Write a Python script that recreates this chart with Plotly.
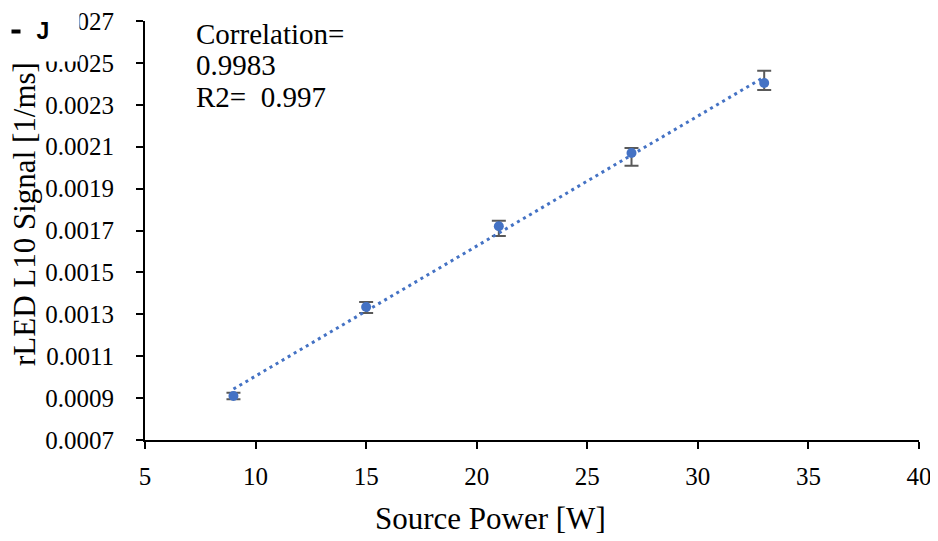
import numpy as np
import plotly.graph_objects as go

# source power settings and measured rLED L10 signal
power = [9, 15, 21, 27, 33]
signal = [0.00091, 0.001335, 0.00172, 0.00207, 0.002404]
err_plus = [0.000015, 0.000024, 0.000027, 0.000024, 0.000059]
err_minus = [0.000015, 0.000029, 0.000046, 0.000061, 0.000033]

x_ticks = [5, 10, 15, 20, 25, 30, 35, 40]
y_ticks = [0.0007, 0.0009, 0.0011, 0.0013, 0.0015, 0.0017, 0.0019, 0.0021, 0.0023, 0.0025, 0.0027]

stats_lines = ["Correlation=", "0.9983", "R2=  0.997"]

# linear trendline over the data range (like Excel's)
slope, icpt = np.polyfit(power, signal, 1)
trend_x = [power[0], power[-1]]
trend_y = [slope * v + icpt for v in trend_x]

BLUE = "#4472C4"
FONT = "Times New Roman, Liberation Serif, serif"

fig = go.Figure()
fig.add_trace(go.Scatter(
    x=power, y=signal, mode="markers",
    marker=dict(color=BLUE, size=10),
    error_y=dict(type="data", symmetric=False, array=err_plus, arrayminus=err_minus,
                 color="#595959", thickness=2, width=7),
    showlegend=False))
fig.add_trace(go.Scatter(
    x=trend_x, y=trend_y, mode="lines",
    line=dict(color=BLUE, width=3, dash="3px,4px"),
    showlegend=False))

axis_common = dict(showline=True, linecolor="black", linewidth=2, ticks="outside",
                   ticklen=7, tickwidth=2, tickcolor="black", showgrid=False,
                   zeroline=False, automargin=False, ticklabeloverflow="allow",
                   tickfont=dict(family=FONT, size=25, color="black"))
fig.update_xaxes(range=[5, 40], tickvals=x_ticks, ticklabelstandoff=6, **axis_common)
fig.update_yaxes(range=[0.0007, 0.0027], tickvals=y_ticks, tickformat=".4f",
                 ticklabelstandoff=17, **axis_common)

# positions below are worked out in page pixels relative to the plot area
# (plot area spans x 145..919, y 21..440 of the page)
ann = []
ann.append(dict(text="Source Power [W]", xref="paper", yref="paper",
                x=(490 - 145) / 774, y=(440 - 518) / 419, xanchor="center", yanchor="middle",
                showarrow=False, font=dict(family=FONT, size=31, color="black")))
ann.append(dict(text="rLED L10 Signal [1/ms]", xref="paper", yref="paper", textangle=-90,
                x=(24 - 145) / 774, y=(440 - 214) / 419, xanchor="center", yanchor="middle",
                showarrow=False, font=dict(family=FONT, size=31, color="black")))
for line, yc in zip(stats_lines, [34, 65, 97]):
    ann.append(dict(text=line, xref="paper", yref="paper",
                    x=(194 - 145) / 774, y=(440 - yc) / 419, xanchor="left", yanchor="middle",
                    showarrow=False, font=dict(family=FONT, size=29, color="black")))
# panel label box that covers the top-left corner
ann.append(dict(text="<b>J</b>", xref="paper", yref="paper",
                x=(43 - 145) / 774, y=(440 - 30.5) / 419, xanchor="center", yanchor="middle",
                width=72, height=61, borderpad=0, bgcolor="white", showarrow=False,
                font=dict(family="Liberation Sans", size=23, color="black")))
ann.append(dict(text=" ", xref="paper", yref="paper",
                x=(16 - 145) / 774, y=(440 - 32) / 419, xanchor="center", yanchor="middle",
                width=8, height=3, borderpad=0, bgcolor="black", showarrow=False,
                font=dict(size=2)))

# the page body adds an 8px margin, so the figure is 8px smaller each way
fig.update_layout(width=930, height=533, margin=dict(l=137, r=19, t=13, b=101),
                  plot_bgcolor="white", paper_bgcolor="white", annotations=ann)
fig.write_html("out.html")
